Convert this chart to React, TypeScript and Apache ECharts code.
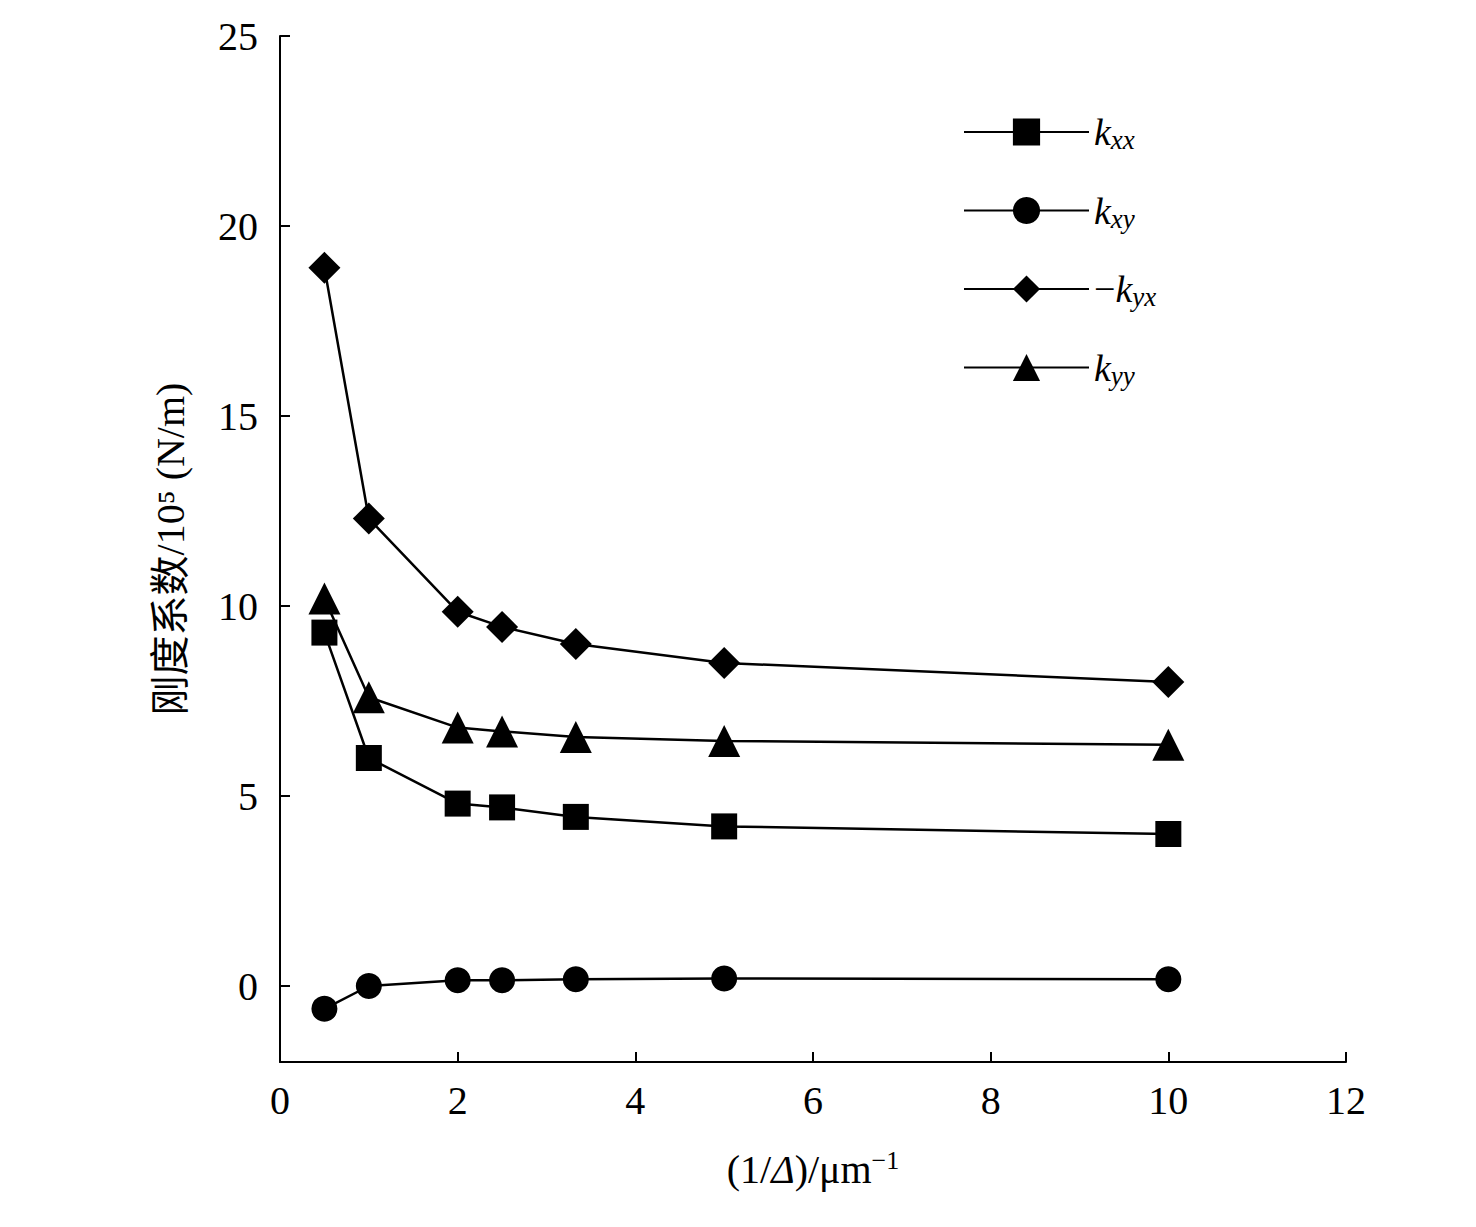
import { useEffect, useRef } from 'react';
import * as echarts from 'echarts';

const xs = [0.5, 1, 2, 2.5, 3.33, 5, 10];
const kxx = [9.3, 6.0, 4.8, 4.7, 4.45, 4.2, 4.0];
const kxy = [-0.6, 0, 0.15, 0.15, 0.18, 0.2, 0.18];
const kyxNeg = [18.9, 12.3, 9.85, 9.45, 9.0, 8.5, 8.0];
const kyy = [10.2, 7.6, 6.8, 6.7, 6.55, 6.45, 6.35];
const yTicks = [0, 5, 10, 15, 20, 25];
const names = ['kxx', 'kxy', '-kyx', 'kyy'];
const symbols = ['rect', 'circle', 'diamond', 'triangle'];

const font = '"Liberation Serif", "Noto Sans CJK SC", serif';

const App = () => {
  const ref = useRef<HTMLDivElement | null>(null);

  useEffect(() => {
    if (!ref.current) return;
    const chart = echarts.init(ref.current, null, { renderer: 'svg' });
    const all = [kxx, kxy, kyxNeg, kyy];
    chart.setOption({
      animation: false,
      textStyle: { fontFamily: font },
      grid: { left: 272, right: 122, top: 28, bottom: 157 },
      legend: {
        orient: 'vertical',
        left: 950,
        top: 100,
        itemWidth: 125,
        itemHeight: 34,
        itemGap: 38,
        data: names,
        formatter: (n: string) => {
          const neg = n.startsWith('-');
          const sub = n.slice(neg ? 2 : 1);
          return (neg ? '{m|\u2212}' : '') + '{i|k}{s|' + sub + '}';
        },
        textStyle: {
          rich: {
            m: { fontSize: 38, fontFamily: font, color: '#000' },
            i: { fontSize: 38, fontStyle: 'italic', fontFamily: font, color: '#000' },
            s: { fontSize: 27, fontStyle: 'italic', fontFamily: font, color: '#000', verticalAlign: 'bottom', padding: [16, 0, 0, 0] },
          },
        },
      },
      xAxis: {
        type: 'value',
        min: 0,
        max: 12,
        interval: 2,
        axisLine: { onZero: false, lineStyle: { color: '#000', width: 2 } },
        axisTick: { inside: true, length: 10, lineStyle: { color: '#000', width: 2 } },
        splitLine: { show: false },
        axisLabel: { color: '#000', fontSize: 40, margin: 18, fontFamily: font },
        name: '{a|(1/}{b|Δ}{a|)/μm}{c|−1}',
        nameLocation: 'middle',
        nameGap: 85,
        nameTextStyle: {
          rich: {
            a: { fontSize: 40, fontFamily: font, color: '#000' },
            b: { fontSize: 40, fontFamily: font, fontStyle: 'italic', color: '#000' },
            c: { fontSize: 26, fontFamily: font, color: '#000', verticalAlign: 'top', padding: [0, 0, 18, 0] },
          },
        },
      },
      yAxis: {
        type: 'value',
        min: -2,
        max: 25,
        axisLine: { lineStyle: { color: '#000', width: 2 } },
        axisTick: {
          inside: true,
          length: 10,
          customValues: yTicks,
          lineStyle: { color: '#000', width: 2 },
        },
        splitLine: { show: false },
        axisLabel: {
          color: '#000',
          fontSize: 40,
          margin: 22,
          fontFamily: font,
          customValues: yTicks,
        },
        name: '刚度系数/10⁵ (N/m)',
        nameLocation: 'middle',
        nameGap: 90,
        nameTextStyle: { fontSize: 40, color: '#000', fontFamily: font },
      },
      series: names.map((n, k) => ({
        name: n,
        type: 'line',
        symbol: symbols[k],
        symbolSize: k === 3 ? 32 : k === 2 ? 32 : 26,
        data: xs.map((x, i) => [x, all[k][i]]),
        lineStyle: { color: '#000', width: 2.5 },
        itemStyle: { color: '#000' },
      })),
    });
    return () => chart.dispose();
  }, []);

  return <div ref={ref} style={{ width: 1460, height: 1211 }} />;
};

export default App;
